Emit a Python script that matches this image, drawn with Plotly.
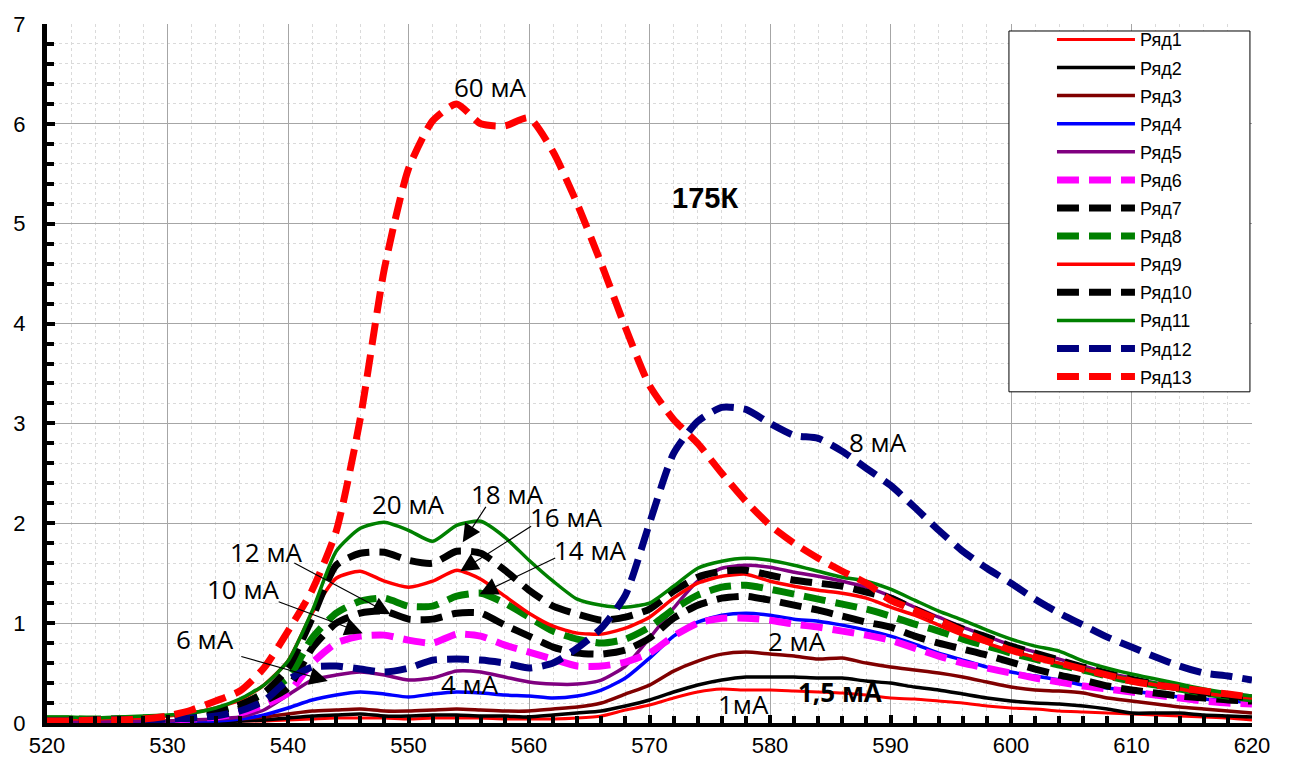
import plotly.graph_objects as go

wavelength = list(range(520, 621, 2))

r1 = [0.00, 0.00, 0.00, 0.01, 0.01, 0.01, 0.01, 0.01, 0.02, 0.02,
      0.03, 0.04, 0.05, 0.05, 0.05, 0.04, 0.05, 0.05, 0.05, 0.04,
      0.04, 0.04, 0.05, 0.07, 0.13, 0.18, 0.25, 0.31, 0.34, 0.33,
      0.33, 0.32, 0.31, 0.30, 0.28, 0.25, 0.24, 0.22, 0.20, 0.17,
      0.15, 0.14, 0.12, 0.11, 0.10, 0.09, 0.08, 0.07, 0.06, 0.05,
      0.03]
r2 = [0.00, 0.00, 0.01, 0.01, 0.01, 0.01, 0.01, 0.01, 0.02, 0.03,
      0.05, 0.07, 0.08, 0.09, 0.07, 0.07, 0.08, 0.08, 0.07, 0.07,
      0.06, 0.08, 0.10, 0.12, 0.17, 0.23, 0.31, 0.38, 0.43, 0.46,
      0.46, 0.46, 0.45, 0.45, 0.42, 0.40, 0.36, 0.33, 0.29, 0.25,
      0.22, 0.20, 0.19, 0.17, 0.14, 0.10, 0.10, 0.10, 0.08, 0.07,
      0.06]
r3 = [0.01, 0.01, 0.01, 0.01, 0.02, 0.02, 0.02, 0.03, 0.04, 0.06,
      0.09, 0.12, 0.13, 0.14, 0.12, 0.12, 0.13, 0.14, 0.13, 0.12,
      0.12, 0.14, 0.16, 0.20, 0.29, 0.38, 0.52, 0.62, 0.69, 0.71,
      0.69, 0.67, 0.64, 0.65, 0.60, 0.56, 0.53, 0.50, 0.46, 0.41,
      0.36, 0.33, 0.32, 0.30, 0.25, 0.22, 0.19, 0.16, 0.14, 0.12,
      0.10]
r4 = [0.01, 0.01, 0.01, 0.01, 0.01, 0.01, 0.02, 0.02, 0.04, 0.08,
      0.15, 0.23, 0.28, 0.31, 0.29, 0.26, 0.29, 0.31, 0.30, 0.28,
      0.27, 0.25, 0.27, 0.33, 0.45, 0.65, 0.87, 1.01, 1.08, 1.10,
      1.08, 1.04, 1.02, 0.98, 0.93, 0.87, 0.79, 0.70, 0.63, 0.56,
      0.51, 0.47, 0.43, 0.38, 0.35, 0.32, 0.29, 0.26, 0.24, 0.22,
      0.21]
r5 = [0.01, 0.01, 0.01, 0.02, 0.02, 0.02, 0.03, 0.04, 0.06, 0.13,
      0.28, 0.43, 0.48, 0.51, 0.48, 0.43, 0.45, 0.52, 0.51, 0.46,
      0.41, 0.39, 0.39, 0.43, 0.57, 0.85, 1.15, 1.42, 1.55, 1.58,
      1.56, 1.51, 1.47, 1.42, 1.36, 1.27, 1.16, 1.06, 0.96, 0.87,
      0.78, 0.71, 0.64, 0.57, 0.50, 0.45, 0.40, 0.36, 0.32, 0.29,
      0.27]
r6 = [0.02, 0.02, 0.02, 0.02, 0.02, 0.03, 0.04, 0.06, 0.10, 0.18,
      0.30, 0.60, 0.80, 0.87, 0.88, 0.83, 0.80, 0.89, 0.87, 0.78,
      0.71, 0.64, 0.57, 0.57, 0.61, 0.70, 0.87, 1.00, 1.05, 1.05,
      1.03, 0.99, 0.96, 0.92, 0.88, 0.83, 0.75, 0.67, 0.60, 0.55,
      0.50, 0.45, 0.41, 0.37, 0.34, 0.31, 0.28, 0.25, 0.22, 0.20,
      0.19]
r7 = [0.03, 0.03, 0.03, 0.03, 0.03, 0.04, 0.05, 0.08, 0.14, 0.22,
      0.35, 0.75, 1.00, 1.10, 1.12, 1.04, 1.04, 1.10, 1.10, 0.98,
      0.87, 0.76, 0.70, 0.69, 0.73, 0.85, 1.05, 1.18, 1.25, 1.27,
      1.23, 1.18, 1.13, 1.07, 1.01, 0.96, 0.87, 0.80, 0.74, 0.68,
      0.61, 0.54, 0.48, 0.43, 0.37, 0.33, 0.30, 0.27, 0.25, 0.23,
      0.22]
r8 = [0.04, 0.04, 0.04, 0.04, 0.05, 0.06, 0.08, 0.12, 0.18, 0.30,
      0.45, 0.85, 1.10, 1.22, 1.25, 1.17, 1.17, 1.27, 1.30, 1.20,
      1.06, 0.92, 0.84, 0.80, 0.84, 0.96, 1.14, 1.28, 1.36, 1.38,
      1.34, 1.29, 1.24, 1.19, 1.14, 1.07, 0.99, 0.92, 0.84, 0.77,
      0.70, 0.64, 0.58, 0.53, 0.47, 0.42, 0.38, 0.34, 0.30, 0.27,
      0.24]
r9 = [0.04, 0.04, 0.04, 0.05, 0.05, 0.07, 0.10, 0.15, 0.23, 0.38,
      0.62, 1.10, 1.45, 1.52, 1.42, 1.36, 1.42, 1.53, 1.44, 1.27,
      1.10, 0.97, 0.90, 0.89, 0.95, 1.06, 1.25, 1.40, 1.47, 1.49,
      1.42, 1.37, 1.33, 1.30, 1.25, 1.16, 1.08, 0.98, 0.88, 0.80,
      0.72, 0.66, 0.60, 0.54, 0.48, 0.43, 0.38, 0.34, 0.30, 0.27,
      0.25]
r10 = [0.03, 0.03, 0.03, 0.04, 0.04, 0.05, 0.07, 0.11, 0.18, 0.30,
       0.55, 1.05, 1.58, 1.70, 1.71, 1.63, 1.60, 1.72, 1.70, 1.53,
       1.33, 1.17, 1.09, 1.03, 1.06, 1.14, 1.32, 1.46, 1.52, 1.53,
       1.48, 1.43, 1.40, 1.37, 1.31, 1.25, 1.14, 1.03, 0.94, 0.86,
       0.77, 0.70, 0.63, 0.56, 0.50, 0.44, 0.39, 0.35, 0.31, 0.28,
       0.25]
r11 = [0.06, 0.06, 0.05, 0.06, 0.07, 0.08, 0.10, 0.15, 0.24, 0.38,
       0.62, 1.12, 1.72, 1.95, 2.01, 1.93, 1.82, 1.98, 2.02, 1.86,
       1.63, 1.42, 1.24, 1.18, 1.16, 1.20, 1.37, 1.55, 1.62, 1.65,
       1.63, 1.58, 1.52, 1.46, 1.42, 1.34, 1.23, 1.12, 1.03, 0.93,
       0.84, 0.77, 0.72, 0.62, 0.55, 0.49, 0.44, 0.39, 0.34, 0.30,
       0.27]
r12 = [0.02, 0.02, 0.03, 0.03, 0.03, 0.04, 0.05, 0.07, 0.12, 0.22,
       0.43, 0.56, 0.57, 0.54, 0.51, 0.55, 0.63, 0.64, 0.63, 0.60,
       0.55, 0.60, 0.75, 0.95, 1.28, 2.00, 2.70, 3.02, 3.16, 3.14,
       3.00, 2.88, 2.85, 2.72, 2.55, 2.38, 2.16, 1.93, 1.72, 1.55,
       1.40, 1.24, 1.10, 0.98, 0.86, 0.76, 0.66, 0.57, 0.50, 0.47,
       0.43]
r13 = [0.02, 0.02, 0.03, 0.03, 0.04, 0.07, 0.13, 0.22, 0.32, 0.55,
       0.92, 1.33, 1.92, 3.05, 4.55, 5.55, 6.03, 6.20, 6.00, 5.98,
       6.06, 5.72, 5.20, 4.60, 3.96, 3.38, 3.04, 2.80, 2.50, 2.22,
       1.98, 1.80, 1.65, 1.52, 1.40, 1.23, 1.13, 1.03, 0.92, 0.82,
       0.73, 0.66, 0.60, 0.54, 0.48, 0.42, 0.38, 0.35, 0.32, 0.29,
       0.26]

series = [r1, r2, r3, r4, r5, r6, r7, r8, r9, r10, r11, r12, r13]
series_names = ["Ряд1", "Ряд2", "Ряд3", "Ряд4", "Ряд5", "Ряд6", "Ряд7",
                "Ряд8", "Ряд9", "Ряд10", "Ряд11", "Ряд12", "Ряд13"]
colors = ["#FF0000", "#000000", "#800000", "#0000FF", "#800080", "#FF00FF",
          "#000000", "#008000", "#FF0000", "#000000", "#008000", "#000080",
          "#FF0000"]
dashed = [False, False, False, False, False, True, True, True, False, True,
          False, True, True]

# labels: text, x, y, bold
label_text = ["60 мА", "8 мА", "20 мА", "18 мА", "16 мА", "14 мА", "12 мА",
              "10 мА", "6 мА", "4 мА", "2 мА", "1,5 мА", "1мА"]
label_x = [556.8, 589.0, 550.0, 558.2, 563.1, 565.1, 538.2, 536.3, 533.1,
           555.1, 582.2, 585.8, 577.8]
label_y = [6.37, 2.81, 2.19, 2.29, 2.06, 1.73, 1.71, 1.34, 0.84, 0.39,
           0.82, 0.31, 0.19]
label_bold = [False] * 11 + [True, False]

# arrows: tail (x, y) -> head (x, y)
arrow_tail_x = [556.5, 560.3, 562.3, 540.4, 539.1, 536.0]
arrow_tail_y = [2.18, 1.98, 1.66, 1.61, 1.22, 0.67]
arrow_head_x = [554.5, 554.3, 555.9, 548.5, 546.2, 543.3]
arrow_head_y = [1.81, 1.52, 1.29, 1.09, 0.90, 0.42]

fig = go.Figure()
for i, (ys, name, col, dsh) in enumerate(zip(series, series_names, colors, dashed)):
    if dsh:
        line = dict(color=col, width=7, dash="22px,10px", shape="spline", smoothing=0.6)
    else:
        line = dict(color=col, width=3.5 if i > 0 else 3, shape="spline", smoothing=0.6)
    fig.add_trace(go.Scatter(x=wavelength, y=ys, mode="lines", name=name,
                             line=line, legendgroup=name))

annotations = []
for t, x, y, b in zip(label_text, label_x, label_y, label_bold):
    annotations.append(dict(x=x, y=y, xref="x", yref="y", text=("<b>%s</b>" % t) if b else t,
                            showarrow=False,
                            font=dict(family="Open Sans", size=26, color="black")))
annotations.append(dict(x=574.6, y=5.26, xref="x", yref="y", text="<b>175К</b>",
                        showarrow=False,
                        font=dict(family="Liberation Sans", size=29, color="black")))
for tx, ty, hx, hy in zip(arrow_tail_x, arrow_tail_y, arrow_head_x, arrow_head_y):
    annotations.append(dict(x=hx, y=hy, ax=tx, ay=ty, xref="x", yref="y",
                            axref="x", ayref="y", text="", showarrow=True,
                            arrowhead=2, arrowsize=3, arrowwidth=1.2,
                            arrowcolor="black"))

fig.update_layout(
    width=1291, height=771,
    margin=dict(l=47, r=39, t=18, b=48),
    paper_bgcolor="white", plot_bgcolor="white",
    showlegend=True,
    legend=dict(xref="paper", yref="paper", x=0.834, y=1.004,
                xanchor="left", yanchor="top", bgcolor="rgba(0,0,0,0)",
                borderwidth=0, itemwidth=78, tracegroupgap=1.7,
                font=dict(family="Liberation Sans", size=18, color="black")),
    annotations=annotations,
    shapes=[dict(type="rect", xref="paper", yref="paper", x0=0.7983, x1=0.9983,
                 y0=0.4738, y1=0.99, fillcolor="white",
                 line=dict(color="black", width=1), layer="above")],
    xaxis=dict(range=[520, 620], dtick=10, tick0=520, showgrid=True,
               gridcolor="#a6a6a6", gridwidth=1, zeroline=False,
               showline=True, linecolor="black", linewidth=4,
               ticks="inside", ticklen=8, tickwidth=4, tickcolor="black",
               minor=dict(dtick=2, showgrid=True, gridcolor="#dadada",
                          griddash="dot", ticks="inside", ticklen=7,
                          tickwidth=4, tickcolor="black"),
               tickfont=dict(family="Liberation Sans", size=22, color="black")),
    yaxis=dict(range=[0, 7], dtick=1, tick0=0, showgrid=True,
               gridcolor="#a6a6a6", gridwidth=1, zeroline=False,
               showline=True, linecolor="black", linewidth=5,
               ticks="inside", ticklen=8, tickwidth=4, tickcolor="black",
               ticklabelstandoff=12,
               minor=dict(dtick=0.2, showgrid=True, gridcolor="#dadada",
                          griddash="dot", ticks="inside", ticklen=7,
                          tickwidth=4, tickcolor="black"),
               tickfont=dict(family="Liberation Sans", size=22, color="black")),
)

fig.write_html("out.html")
